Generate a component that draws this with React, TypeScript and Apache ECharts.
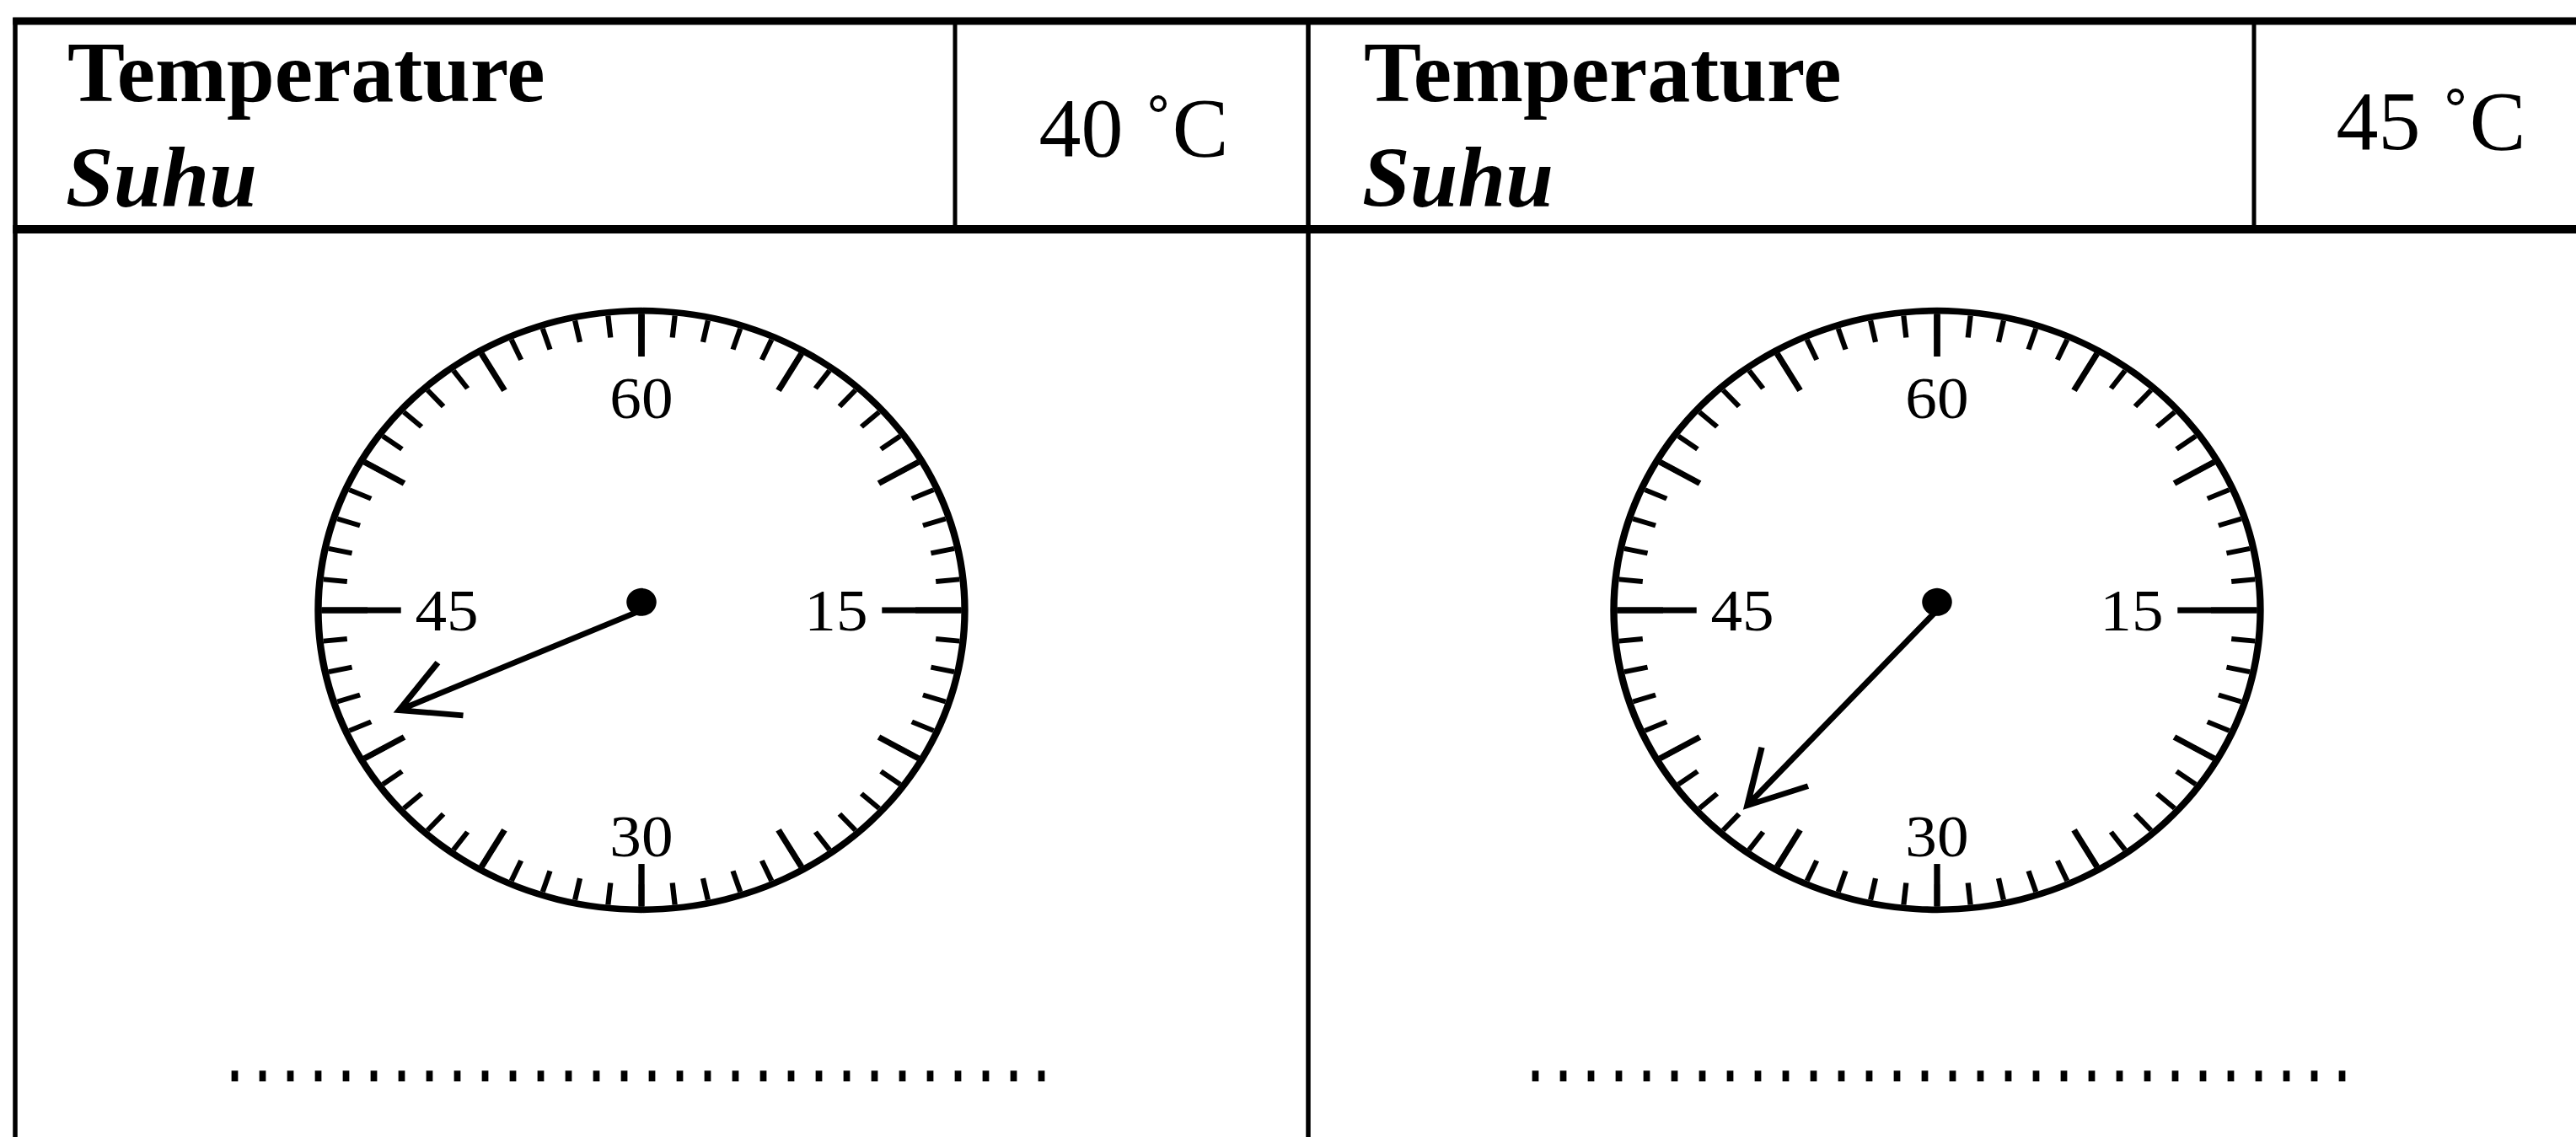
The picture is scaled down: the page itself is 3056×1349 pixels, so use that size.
import React, { useEffect, useRef } from 'react';
import * as echarts from 'echarts';

// ---- data ----
const headerTitle = 'Temperature';
const headerSubtitle = 'Suhu';
const headerValues = ['40 ˚C', '45 ˚C'];
const dialReadings = [41, 37];
const dialMin = 0;
const dialMax = 60;
const dialStep = 5; // major tick every 5
const dialLabelValues = [15, 30, 45, 60];
const sideLabelValues = [15, 45];
const answerDotCount = 30;

// ---- layout ----
const W = 3056;
const H = 1349;
const SERIF = 'Liberation Serif';
const panels = [
  { left: 18, divider: 1133, textX: 80, valueX: 1345, valueBaseline: 185, cx: 761, cy: 724, pointerLen: 301, dotsX: 262 },
  { left: 1552, divider: 2674, textX: 1618, valueX: 2884, valueBaseline: 177, cx: 2298, cy: 724, pointerLen: 322, dotsX: 1805 },
];
const TOP_Y = 25;
const HEADER_Y = 272;

// dial drawn as a circle then stretched into the reference's slight ellipse
const DIAL_BOX = 900;
const DIAL_SX = 1.045;
const DIAL_SY = 0.968;
const RING_R = 371;
const RING_W = 8;
const MAJOR_LEN = 52;
const LONG_LEN = 90;
const MINOR_LEN = 27;
const LABEL_SIZE = 72;
const LABEL_DIST = 6;

const HEAD_HALF = 35.4;
const HEAD_DEPTH = 63.8;
function arrowIcon(len: number) {
  return `path://M0 ${HEAD_DEPTH} L${HEAD_HALF} 0 L${HEAD_HALF * 2} ${HEAD_DEPTH} M${HEAD_HALF} 0 L${HEAD_HALF} ${len}`;
}

const black = '#000';

function tableOption() {
  const elements: any[] = [];
  elements.push({ type: 'line', shape: { x1: panels[0].left - 2.75, y1: TOP_Y, x2: W + 10, y2: TOP_Y }, style: { stroke: black, lineWidth: 9 } });
  elements.push({ type: 'line', shape: { x1: panels[0].left - 2.75, y1: HEADER_Y, x2: W + 10, y2: HEADER_Y }, style: { stroke: black, lineWidth: 10 } });
  panels.forEach((p, i) => {
    elements.push({ type: 'line', shape: { x1: p.left, y1: TOP_Y - 4, x2: p.left, y2: H + 10 }, style: { stroke: black, lineWidth: 5.5 } });
    elements.push({ type: 'line', shape: { x1: p.divider, y1: TOP_Y - 4, x2: p.divider, y2: HEADER_Y }, style: { stroke: black, lineWidth: 5 } });
    elements.push({
      type: 'text', x: p.textX, y: 120 - 0.3375 * 102,
      style: { text: headerTitle, fontFamily: SERIF, fontWeight: 'bold', fontSize: 102, fill: black, align: 'left', verticalAlign: 'middle' },
    });
    elements.push({
      type: 'text', x: p.textX - 2, y: 245 - 0.3375 * 102,
      style: { text: headerSubtitle, fontFamily: SERIF, fontWeight: 'bold', fontStyle: 'italic', fontSize: 102, fill: black, align: 'left', verticalAlign: 'middle' },
    });
    elements.push({
      type: 'text', x: p.valueX, y: p.valueBaseline - 0.3375 * 100,
      style: { text: headerValues[i], fontFamily: SERIF, fontSize: 100, fill: black, align: 'center', verticalAlign: 'middle' },
    });
    elements.push({
      type: 'text', x: p.dotsX, y: 1260, scaleX: 33 / 51, scaleY: 1,
      style: { text: '.'.repeat(answerDotCount), fontFamily: 'Liberation Mono', fontWeight: 'bold', fontSize: 85, fill: black, align: 'left', verticalAlign: 'middle' },
    });
  });
  return { animation: false, backgroundColor: '#fff', graphic: { elements }, series: [] };
}

function dialOption(i: number) {
  const p = panels[i];
  const c = [DIAL_BOX / 2, DIAL_BOX / 2];
  return {
    animation: false,
    backgroundColor: 'transparent',
    series: [
      {
        type: 'gauge',
        center: c,
        radius: RING_R,
        startAngle: 90,
        endAngle: -270,
        clockwise: true,
        min: dialMin,
        max: dialMax,
        splitNumber: (dialMax - dialMin) / dialStep,
        progress: { show: false },
        axisLine: { show: true, lineStyle: { width: RING_W, color: [[1, black]] } },
        splitLine: { show: true, length: MAJOR_LEN, distance: 0, lineStyle: { width: 7, color: black } },
        axisTick: { show: true, splitNumber: dialStep, length: MINOR_LEN, distance: 0, lineStyle: { width: 6, color: black } },
        axisLabel: {
          show: true,
          distance: LABEL_DIST,
          color: black,
          fontFamily: SERIF,
          fontSize: LABEL_SIZE,
          formatter: (v: number) => {
            const n = Math.round(v);
            if (dialLabelValues.indexOf(n) < 0) return '';
            if (sideLabelValues.indexOf(n) >= 0) return `{h|${n}}`;
            if (n === dialMax) return `{t|${n}}`;
            return `{b|${n}}`;
          },
          rich: {
            h: { fontFamily: SERIF, fontSize: LABEL_SIZE, color: black, padding: [0, 56, 0, 56] },
            t: { fontFamily: SERIF, fontSize: LABEL_SIZE, color: black, padding: [17, 0, 0, 0] },
            b: { fontFamily: SERIF, fontSize: LABEL_SIZE, color: black },
          },
        },
        pointer: {
          show: true,
          icon: arrowIcon(p.pointerLen),
          length: p.pointerLen,
          width: HEAD_HALF * 2,
          keepAspect: false,
          itemStyle: { color: 'rgba(0,0,0,0)', borderColor: black, borderWidth: 7, borderJoin: 'miter' },
        },
        anchor: { show: true, showAbove: true, size: 34, offsetCenter: [0, -10], icon: 'circle', itemStyle: { color: black, borderWidth: 0 } },
        title: { show: false },
        detail: { show: false },
        data: [{ value: dialReadings[i] }],
      },
      {
        // long ticks at 15 and 45
        type: 'gauge',
        center: c,
        radius: RING_R,
        startAngle: 90 - (sideLabelValues[0] / dialMax) * 360,
        endAngle: 90 - (sideLabelValues[1] / dialMax) * 360,
        clockwise: true,
        min: sideLabelValues[0],
        max: sideLabelValues[1],
        splitNumber: 1,
        progress: { show: false },
        axisLine: { show: false, lineStyle: { width: RING_W } },
        splitLine: { show: true, length: LONG_LEN, distance: 0, lineStyle: { width: 7, color: black } },
        axisTick: { show: false },
        axisLabel: { show: false },
        pointer: { show: false },
        anchor: { show: false },
        title: { show: false },
        detail: { show: false },
        data: [{ value: sideLabelValues[0] }],
      },
    ],
  };
}

export default function App() {
  const mainRef = useRef<HTMLDivElement>(null);
  const dialRef0 = useRef<HTMLDivElement>(null);
  const dialRef1 = useRef<HTMLDivElement>(null);
  useEffect(() => {
    const charts: any[] = [];
    if (mainRef.current) {
      const ch = echarts.init(mainRef.current, null, { renderer: 'svg' });
      ch.setOption(tableOption() as any);
      charts.push(ch);
    }
    [dialRef0, dialRef1].forEach((r, i) => {
      if (!r.current) return;
      const ch = echarts.init(r.current, null, { renderer: 'svg' });
      ch.setOption(dialOption(i) as any);
      charts.push(ch);
    });
    return () => charts.forEach((c) => c.dispose());
  }, []);
  const dialStyle = (i: number): React.CSSProperties => ({
    position: 'fixed',
    left: panels[i].cx - DIAL_BOX / 2 + 'px',
    top: panels[i].cy - DIAL_BOX / 2 + 'px',
    width: DIAL_BOX + 'px',
    height: DIAL_BOX + 'px',
    transform: `scale(${DIAL_SX}, ${DIAL_SY})`,
    transformOrigin: '50% 50%',
  });
  return (
    <>
      <div
        ref={mainRef}
        style={{ position: 'fixed', left: 0, top: 0, width: W + 'px', height: H + 'px', background: '#fff' }}
      />
      <div ref={dialRef0} style={dialStyle(0)} />
      <div ref={dialRef1} style={dialStyle(1)} />
    </>
  );
}
